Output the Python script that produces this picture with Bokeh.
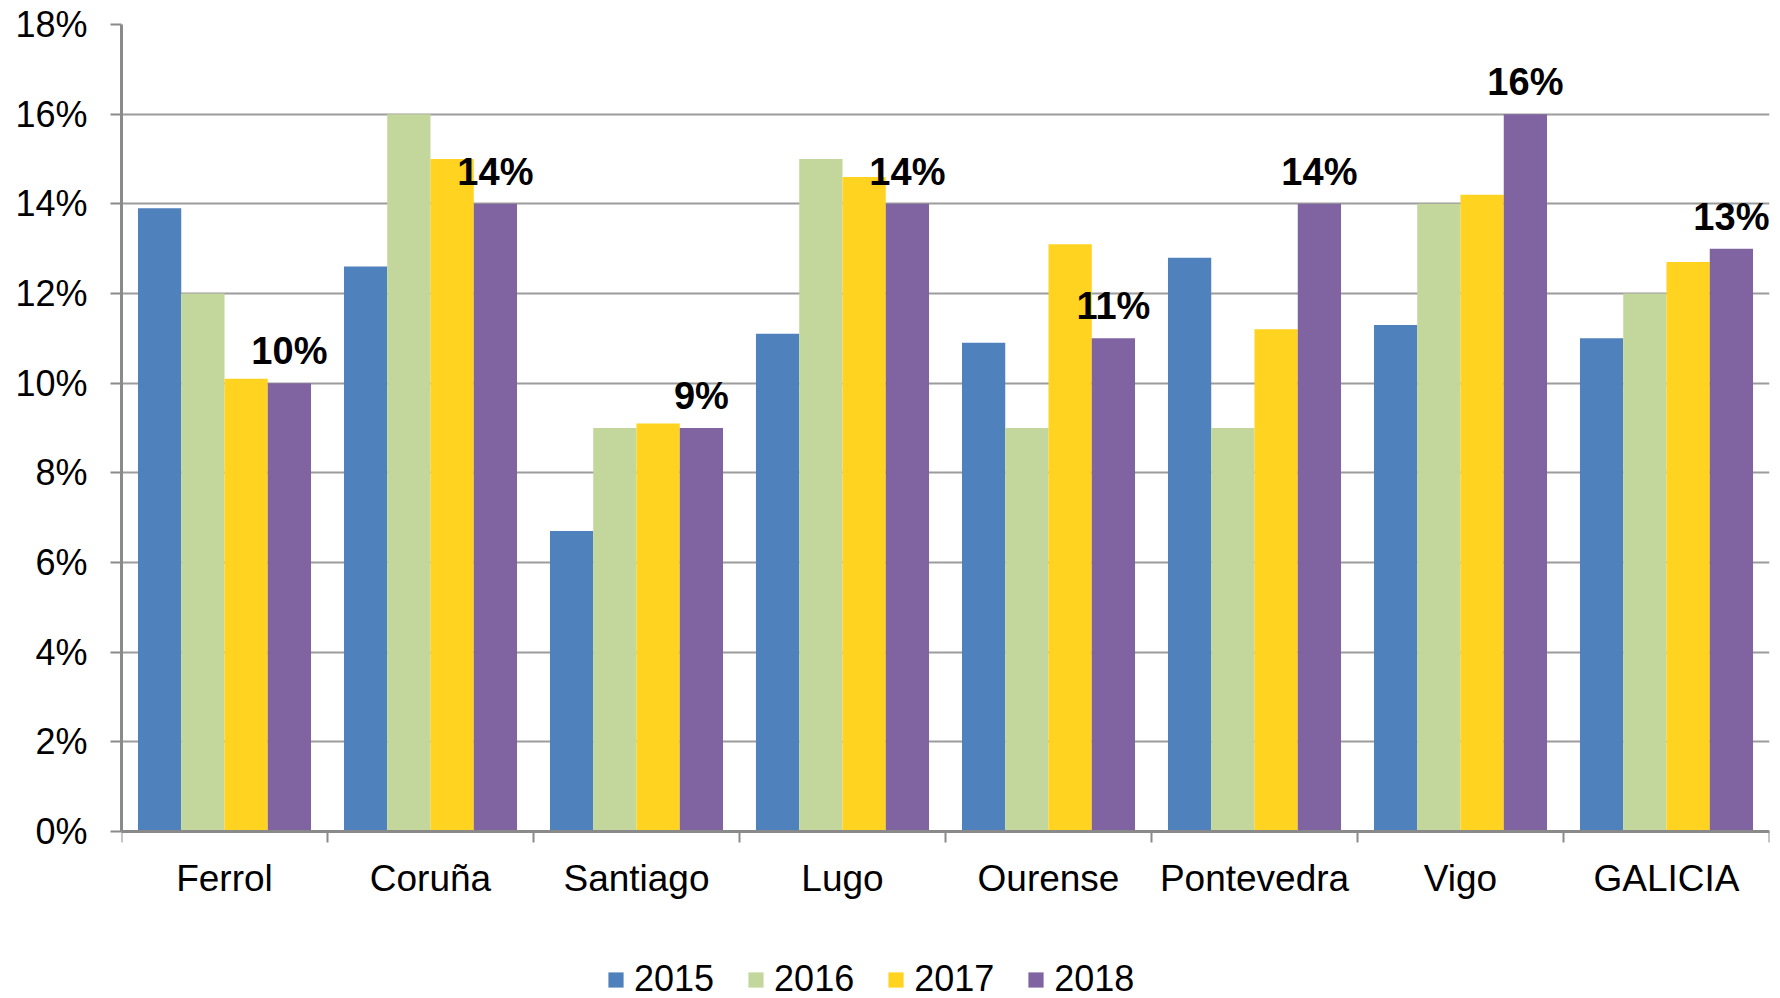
from bokeh.plotting import figure
from bokeh.models import (ColumnDataSource, Range1d, FixedTicker, PrintfTickFormatter,
                          CustomJSTickFormatter, Legend, LegendItem)
from bokeh.transform import dodge
from bokeh.core.properties import value
from bokeh.embed import file_html
from bokeh.resources import INLINE

cities = ["Ferrol", "Coruña", "Santiago", "Lugo", "Ourense", "Pontevedra", "Vigo", "GALICIA"]
years = ["2015", "2016", "2017", "2018"]
v2015 = [13.9, 12.6, 6.7, 11.1, 10.9, 12.8, 11.3, 11.0]
v2016 = [12.0, 16.0, 9.0, 15.0, 9.0, 9.0, 14.0, 12.0]
v2017 = [10.1, 15.0, 9.1, 14.6, 13.1, 11.2, 14.2, 12.7]
v2018 = [10.0, 14.0, 9.0, 14.0, 11.0, 14.0, 16.0, 13.0]
colors = ["#4F81BD", "#C3D69B", "#FFD320", "#8064A2"]
y_ticks = [0, 2, 4, 6, 8, 10, 12, 14, 16, 18]

FONT = "Liberation Sans"

W, H = 1780, 998
TOP, ZERO_Y = 24, 831          # screen rows of 18% and 0%
Y_MAX = 18
y_min = -Y_MAX * (H - ZERO_Y) / (ZERO_Y - TOP)   # room below the axis for labels/legend

src = ColumnDataSource(dict(
    x=[i + 0.5 for i in range(len(cities))],
    city=cities,
    y2015=v2015, y2016=v2016, y2017=v2017, y2018=v2018,
    lbl=[f"{round(v)}%" for v in v2018],
))

p = figure(width=W, height=H, output_backend="svg", toolbar_location=None,
           x_range=Range1d(0, len(cities)), y_range=Range1d(y_min, Y_MAX),
           min_border_left=121, min_border_right=11, min_border_top=TOP, min_border_bottom=0)
p.outline_line_color = None
p.background_fill_color = None
p.border_fill_color = "white"

bw = 0.21
offsets = [-1.5 * bw, -0.5 * bw, 0.5 * bw, 1.5 * bw]
renderers = []
for yr, col, off in zip(years, colors, offsets):
    r = p.vbar(x=dodge("x", off, range=p.x_range), top="y" + yr, width=bw, bottom=0,
               source=src, fill_color=col, line_color=None)
    renderers.append(r)

p.text(x=dodge("x", offsets[3], range=p.x_range), y="y2018", text="lbl", source=src,
       text_font=value(FONT), text_font_size="38px", text_font_style="bold",
       text_align="center", text_baseline="middle", y_offset=-32, text_color="black")

AXIS_COL = "#8A8A8A"

# grid
p.xgrid.visible = False
p.ygrid.grid_line_color = "#9C9C9C"
p.ygrid.grid_line_width = 2
p.ygrid.ticker = FixedTicker(ticks=y_ticks)

# y axis
ya = p.yaxis[0]
ya.ticker = FixedTicker(ticks=y_ticks)
ya.bounds = (0, Y_MAX)
ya.formatter = PrintfTickFormatter(format="%d%%")
ya.axis_line_color = AXIS_COL
ya.axis_line_width = 3
ya.major_tick_line_color = AXIS_COL
ya.major_tick_line_width = 2
ya.major_tick_out = 11
ya.major_tick_in = 0
ya.minor_tick_line_color = None
ya.major_label_standoff = 23
ya.major_label_text_font = FONT
ya.major_label_text_font_size = "36px"
ya.major_label_text_color = "black"

# x axis, pinned at 0%
xa = p.xaxis[0]
xa.fixed_location = 0
xa.ticker = FixedTicker(ticks=[i + 0.5 for i in range(len(cities))],
                        minor_ticks=list(range(len(cities) + 1)))
xa.formatter = CustomJSTickFormatter(args=dict(labels=cities),
                                     code="const l = labels[Math.floor(tick)]; return l === undefined ? '' : l;")
xa.axis_line_color = AXIS_COL
xa.axis_line_width = 3
xa.major_tick_line_color = None
xa.major_tick_out = 0
xa.major_tick_in = 0
xa.minor_tick_line_color = AXIS_COL
xa.minor_tick_line_width = 2
xa.minor_tick_out = 11
xa.minor_tick_in = 0
xa.major_label_standoff = 15
xa.major_label_text_font = FONT
xa.major_label_text_font_size = "37px"
xa.major_label_text_color = "black"

legend = Legend(items=[LegendItem(label=yr, renderers=[r]) for yr, r in zip(years, renderers)],
                orientation="horizontal", location=(485, -2),
                glyph_width=19, glyph_height=19, label_standoff=9, spacing=32,
                padding=0, margin=0, border_line_color=None, background_fill_alpha=0,
                label_text_font=FONT, label_text_font_size="36px", label_text_color="black")
p.add_layout(legend, "center")

open("out.html", "w").write(file_html(p, INLINE))
